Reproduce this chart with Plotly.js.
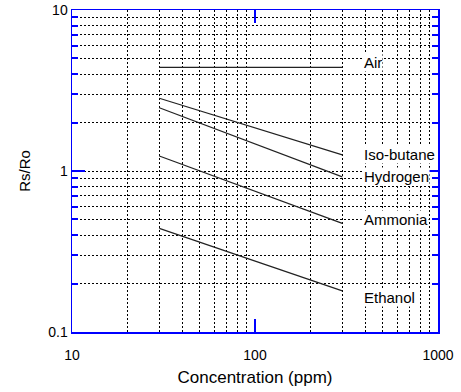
<!DOCTYPE html>
<html>
<head>
<meta charset="utf-8">
<script src="https://cdn.plot.ly/plotly-3.0.1.min.js"></script>
<style>html,body{margin:0;padding:0;background:#fff;}#chart{width:461px;height:392px;}</style>
</head>
<body>
<div id="chart"></div>
<script>
const gases = ["Air", "Iso-butane", "Hydrogen", "Ammonia", "Ethanol"];
const concentration = [30, 300];
const air = [4.4, 4.4];
const isoButane = [2.83, 1.26];
const hydrogen = [2.47, 0.92];
const ammonia = [1.24, 0.473];
const ethanol = [0.44, 0.18];
const xTicks = [10, 100, 1000];
const yTicks = [0.1, 1, 10];
const xMinorTicks = [20, 30, 40, 50, 60, 70, 80, 90, 200, 300, 400, 500, 600, 700, 800, 900];
const yMinorTicks = [0.2, 0.3, 0.4, 0.5, 0.6, 0.7, 0.8, 0.9, 2, 3, 4, 5, 6, 7, 8, 9];

const series = [air, isoButane, hydrogen, ammonia, ethanol];
const labelShift = [5, 0, 0, 4, -7];

const traces = series.map((s, i) => ({
  x: concentration, y: s, type: 'scatter', mode: 'lines', name: gases[i],
  line: {color: '#222', width: 1.2}, hoverinfo: 'skip'
}));

const annotations = series.map((s, i) => ({
  x: Math.log10(concentration[concentration.length - 1]),
  y: Math.log10(s[s.length - 1]),
  xref: 'x', yref: 'y', text: gases[i], showarrow: false,
  xanchor: 'left', yanchor: 'middle', xshift: 21, yshift: labelShift[i],
  bgcolor: '#fff', borderpad: 0,
  font: {family: 'Liberation Sans, Arial, sans-serif', size: 15, color: '#000'}
}));

const blue = '#0000ff';
const grid = {gridcolor: '#000', gridwidth: 1, griddash: '2px,2px'};
const layout = {
  width: 461, height: 392,
  margin: {l: 72, r: 23, t: 10, b: 60},
  paper_bgcolor: '#fff', plot_bgcolor: '#fff',
  showlegend: false,
  font: {family: 'Liberation Sans, Arial, sans-serif', size: 14, color: '#000'},
  xaxis: {
    type: 'log', range: [1, 3], tickmode: 'array', tickvals: xTicks, ticktext: xTicks.map(String),
    showgrid: false, zeroline: false,
    showline: true, linecolor: blue, linewidth: 1.5, mirror: 'ticks',
    ticks: 'inside', ticklen: 13, tickcolor: blue, tickwidth: 2,
    ticklabelstandoff: 10,
    tickfont: {size: 14},
    minor: Object.assign({tickmode: 'array', tickvals: xMinorTicks, showgrid: true, ticks: ''}, grid),
    title: {text: 'Concentration (ppm)', font: {size: 17}, standoff: 9}
  },
  yaxis: Object.assign({
    type: 'log', range: [-1, 1], tickmode: 'array', tickvals: yTicks, ticktext: yTicks.map(String),
    showgrid: true, zeroline: false,
    showline: true, linecolor: blue, linewidth: 1.5, mirror: 'ticks',
    ticks: 'inside', ticklen: 13, tickcolor: blue, tickwidth: 2,
    tickfont: {size: 14},
    minor: Object.assign({tickmode: 'array', tickvals: yMinorTicks, showgrid: true,
            ticks: 'inside', ticklen: 6, tickcolor: blue, tickwidth: 2}, grid),
    title: {text: 'Rs/Ro', font: {size: 15}, standoff: 14}
  }, grid),
  annotations: annotations
};

Plotly.newPlot('chart', traces, layout, {displayModeBar: false, staticPlot: true});
</script>
</body>
</html>
